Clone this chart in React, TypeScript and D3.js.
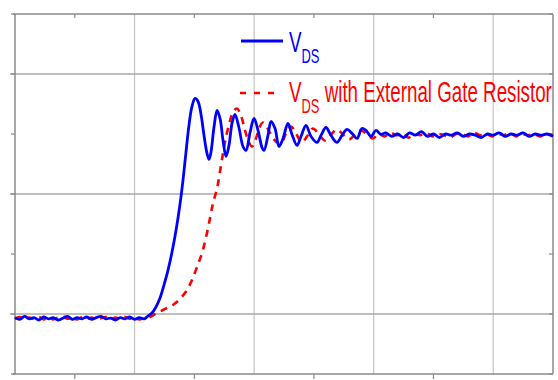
import React from 'react'
import * as d3 from 'd3'

// time (arbitrary units) / normalised drain-source voltage
const vdsBlue: [number, number][] = [
  [0.0, -0.03], [0.04, -0.045], [0.08, -0.02], [0.12, -0.04], [0.16, -0.03], [0.2, -0.05],
  [0.24, -0.025], [0.28, -0.04], [0.32, -0.03], [0.36, -0.05], [0.4, -0.035], [0.44, -0.02],
  [0.48, -0.045], [0.52, -0.03], [0.56, -0.04], [0.6, -0.025], [0.64, -0.045], [0.68, -0.03],
  [0.72, -0.02], [0.76, -0.04], [0.8, -0.035], [0.84, -0.05], [0.88, -0.03], [0.92, -0.04],
  [0.96, -0.025], [1.0, -0.045], [1.04, -0.03], [1.08, -0.04],
  [1.112, -0.017], [1.146, 0.008], [1.179, 0.058], [1.213, 0.133], [1.246, 0.241],
  [1.28, 0.366], [1.313, 0.515], [1.347, 0.698], [1.38, 0.914], [1.405, 1.114],
  [1.43, 1.347], [1.455, 1.571], [1.48, 1.729], [1.506, 1.796], [1.531, 1.771],
  [1.556, 1.663], [1.581, 1.488], [1.606, 1.338], [1.623, 1.288], [1.639, 1.347],
  [1.664, 1.554], [1.69, 1.696], [1.715, 1.629], [1.74, 1.446], [1.765, 1.313],
  [1.79, 1.405], [1.815, 1.588], [1.84, 1.663], [1.873, 1.554], [1.907, 1.396],
  [1.932, 1.363], [1.966, 1.513], [1.999, 1.629], [2.033, 1.53], [2.066, 1.388],
  [2.083, 1.363], [2.116, 1.488], [2.141, 1.604], [2.175, 1.546], [2.208, 1.396],
  [2.242, 1.463], [2.283, 1.588], [2.317, 1.496], [2.359, 1.405], [2.392, 1.479],
  [2.434, 1.571], [2.476, 1.48], [2.526, 1.43], [2.559, 1.488], [2.601, 1.554],
  [2.643, 1.488], [2.693, 1.43], [2.735, 1.488], [2.777, 1.538], [2.819, 1.505],
  [2.861, 1.463], [2.902, 1.546], [2.936, 1.53], [2.978, 1.48], [3.019, 1.53],
  [3.061, 1.496], [3.1, 1.51], [3.15, 1.48], [3.2, 1.5], [3.25, 1.47], [3.3, 1.51],
  [3.35, 1.49], [3.4, 1.52], [3.45, 1.48], [3.5, 1.5], [3.55, 1.47], [3.6, 1.5],
  [3.65, 1.49], [3.7, 1.51], [3.75, 1.48], [3.8, 1.5], [3.85, 1.49], [3.9, 1.47],
  [3.95, 1.5], [4.0, 1.49], [4.05, 1.51], [4.1, 1.48], [4.15, 1.5], [4.2, 1.49],
  [4.25, 1.51], [4.3, 1.48], [4.35, 1.5], [4.4, 1.49], [4.45, 1.5], [4.5, 1.48],
]

const vdsRed: [number, number][] = [
  [0.0, -0.04], [0.04, -0.025], [0.08, -0.045], [0.12, -0.03], [0.16, -0.04], [0.2, -0.025],
  [0.24, -0.045], [0.28, -0.03], [0.32, -0.045], [0.36, -0.03], [0.4, -0.02], [0.44, -0.04],
  [0.48, -0.03], [0.52, -0.045], [0.56, -0.025], [0.6, -0.04], [0.64, -0.03], [0.68, -0.045],
  [0.72, -0.035], [0.76, -0.025], [0.8, -0.045], [0.84, -0.03], [0.88, -0.04], [0.92, -0.025],
  [0.96, -0.04], [1.0, -0.03], [1.04, -0.045], [1.08, -0.035],
  [1.129, -0.025], [1.188, 0.008], [1.255, 0.042], [1.321, 0.075], [1.38, 0.125],
  [1.439, 0.2], [1.48, 0.283], [1.522, 0.391], [1.564, 0.507], [1.598, 0.64],
  [1.631, 0.798], [1.656, 0.923], [1.69, 1.047], [1.723, 1.239], [1.756, 1.43],
  [1.79, 1.579], [1.823, 1.679], [1.856, 1.712], [1.89, 1.654], [1.924, 1.53],
  [1.957, 1.43], [1.982, 1.396], [2.016, 1.463], [2.041, 1.546], [2.074, 1.596],
  [2.108, 1.554], [2.15, 1.48], [2.191, 1.43], [2.225, 1.421], [2.267, 1.505],
  [2.308, 1.563], [2.35, 1.505], [2.4, 1.43], [2.442, 1.48], [2.492, 1.546],
  [2.543, 1.496], [2.593, 1.446], [2.643, 1.496], [2.693, 1.538], [2.743, 1.496],
  [2.794, 1.455], [2.844, 1.496], [2.894, 1.53], [2.944, 1.496], [2.994, 1.463],
  [3.04, 1.5], [3.09, 1.48], [3.14, 1.51], [3.19, 1.49], [3.24, 1.5], [3.29, 1.47],
  [3.34, 1.5], [3.39, 1.49], [3.44, 1.51], [3.49, 1.48], [3.54, 1.5], [3.59, 1.49],
  [3.64, 1.47], [3.69, 1.5], [3.74, 1.5], [3.79, 1.48], [3.84, 1.51], [3.89, 1.49],
  [3.94, 1.5], [3.99, 1.48], [4.04, 1.5], [4.09, 1.49], [4.14, 1.51], [4.19, 1.48],
  [4.24, 1.5], [4.29, 1.49], [4.34, 1.5], [4.39, 1.48], [4.44, 1.5], [4.5, 1.49],
]

const xGrid = [1, 2, 3, 4]
const xMinor = [0.5, 1.5, 2.5, 3.5]
const yGrid = [0, 1, 2]
const yTicks = [-0.5, 0, 0.5, 1, 1.5, 2, 2.5]

const W = 558
const H = 380
const margin = { top: 14, right: 5, bottom: 6, left: 15 }

// the legend font in the figure is a squeezed Arial
const squeeze = 0.647

function Label({ x, y, color, rest }: { x: number; y: number; color: string; rest?: string }) {
  return (
    <g transform={`translate(${x},${y}) scale(${squeeze},1)`}>
      <text x={0} y={0} fill={color} fontFamily='"Liberation Sans", Arial, sans-serif' fontSize={29}>
        V
        <tspan fontSize={20} dy={11}>DS</tspan>
        {rest ? <tspan fontSize={29} dy={-11}>{' ' + rest}</tspan> : null}
      </text>
    </g>
  )
}

function App() {
  const x = d3.scaleLinear().domain([0, 4.5]).range([margin.left, W - margin.right])
  const y = d3.scaleLinear().domain([-0.5, 2.5]).range([H - margin.bottom, margin.top])

  const line = d3
    .line<[number, number]>()
    .x((d) => x(d[0]))
    .y((d) => y(d[1]))
    .curve(d3.curveCatmullRom)

  const [x0, x1] = x.range()
  const [y0, y1] = y.range()

  return (
    <svg width={W} height={H} style={{ position: 'absolute', left: 0, top: 0, background: '#fff' }}>
      {/* grid */}
      {xGrid.map((g) => (
        <line key={'xg' + g} x1={x(g)} x2={x(g)} y1={y1} y2={y0} stroke="#c4c4c4" strokeWidth={1.2} />
      ))}
      {yGrid.map((g) => (
        <line key={'yg' + g} x1={x0 - 5} x2={x1} y1={y(g)} y2={y(g)} stroke="#a8a8a8" strokeWidth={1.4} />
      ))}

      {/* ticks */}
      {xMinor.map((t) => (
        <g key={'xt' + t} stroke="#888" strokeWidth={1.2}>
          <line x1={x(t)} x2={x(t)} y1={y1} y2={y1 + 4} />
          <line x1={x(t)} x2={x(t)} y1={y0} y2={y0 + 5} />
        </g>
      ))}
      {yTicks.map((t) => (
        <g key={'yt' + t} stroke="#888" strokeWidth={1.2}>
          <line x1={x0 - 4} x2={x0} y1={y(t)} y2={y(t)} />
          <line x1={x1 - 4} x2={x1} y1={y(t)} y2={y(t)} />
        </g>
      ))}

      {/* frame */}
      <line x1={x0 - 2} x2={x1} y1={y1} y2={y1} stroke="#8a8a8a" strokeWidth={1.5} />
      <line x1={x0 - 2} x2={x1} y1={y0} y2={y0} stroke="#8a8a8a" strokeWidth={1.5} />
      <line x1={x0} x2={x0} y1={y1} y2={y0} stroke="#8a8a8a" strokeWidth={1.5} />
      <line x1={x1} x2={x1} y1={y1} y2={y0} stroke="#8a8a8a" strokeWidth={1.5} />

      {/* traces */}
      <path d={line(vdsRed) || ''} fill="none" stroke="#ff0000" strokeWidth={2.6} strokeDasharray="7,6" />
      <path d={line(vdsBlue) || ''} fill="none" stroke="#0000ff" strokeWidth={2.8} />

      {/* legend */}
      <line x1={241} x2={283} y1={41} y2={41} stroke="#0000ff" strokeWidth={2.8} />
      <Label x={289} y={52} color="#0000ff" />

      <line x1={240} x2={278} y1={93} y2={93} stroke="#ff0000" strokeWidth={2.6} strokeDasharray="6,8" />
      <Label x={289} y={102} color="#ff0000" rest="with External Gate Resistor" />
    </svg>
  )
}

export default App
